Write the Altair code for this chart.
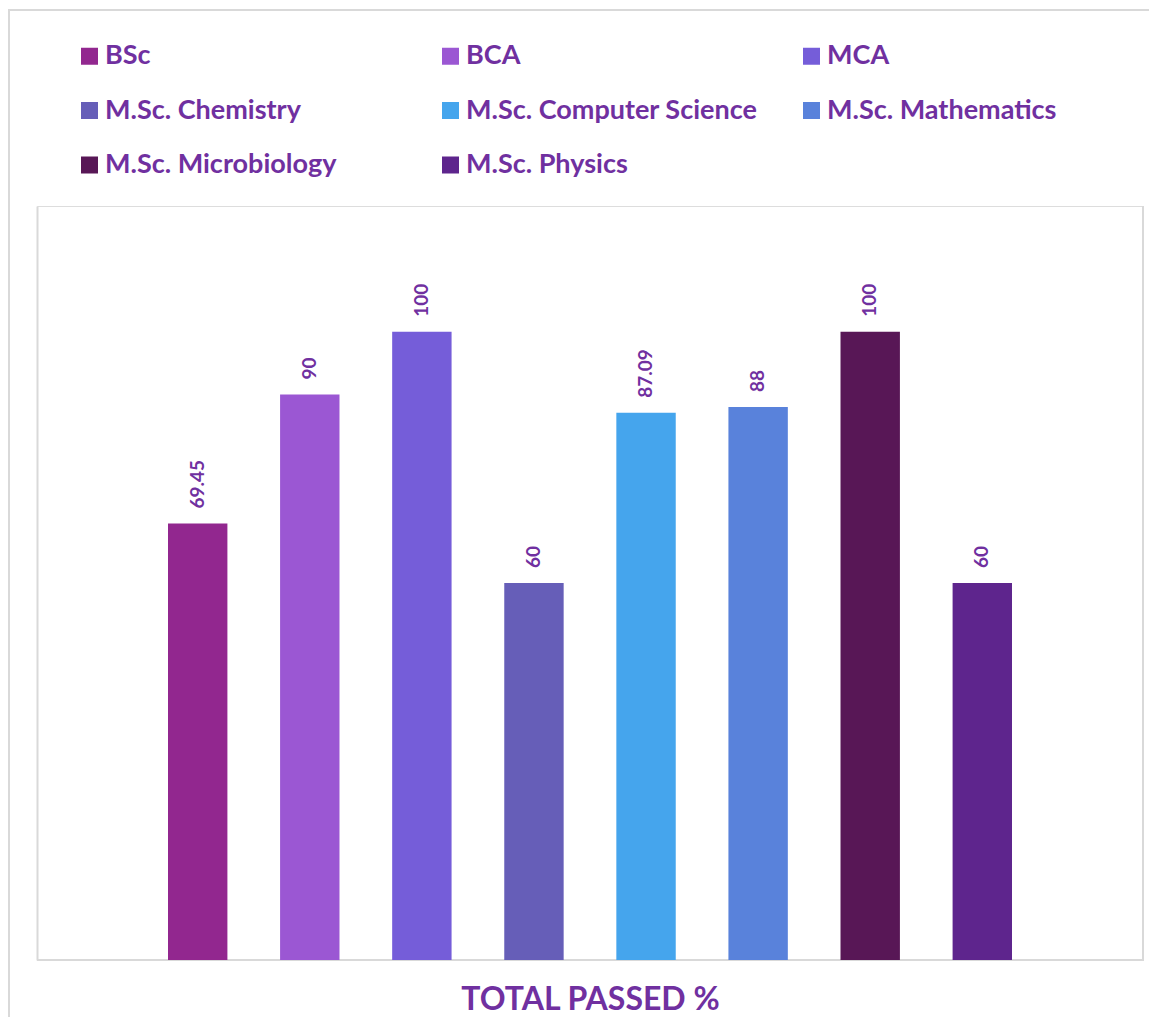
import altair as alt
import pandas as pd

programs = ["BSc", "BCA", "MCA", "M.Sc. Chemistry", "M.Sc. Computer Science",
            "M.Sc. Mathematics", "M.Sc. Microbiology", "M.Sc. Physics"]
passed = [69.45, 90, 100, 60, 87.09, 88, 100, 60]
colors = ["#92278F", "#9B57D3", "#755DD9", "#665EB8", "#45A5ED",
          "#5982DB", "#581756", "#5E258D"]
axis_title = "TOTAL PASSED %"

W, H = 1106, 754
PURPLE = "#7030A0"
GRID = "#D9D9D9"
FONT = "Lato"

df = pd.DataFrame({"program": programs, "value": passed})

x_enc = alt.X("program:N", sort=programs,
              scale=alt.Scale(paddingInner=0.47, paddingOuter=0, range=[131, W - 131]),
              axis=alt.Axis(labels=False, ticks=False, domain=False, grid=False,
                            title=axis_title, titleFont=FONT, titleFontSize=32,
                            titleFontWeight="bold", titleColor=PURPLE, titlePadding=24))
y_enc = alt.Y("value:Q", scale=alt.Scale(domain=[0, 120], nice=False),
              axis=alt.Axis(labels=False, ticks=False, domain=True, domainColor=GRID,
                            domainWidth=2, grid=False, title=None))

base = alt.Chart(df)

bars = base.mark_bar().encode(
    x=x_enc,
    y=y_enc,
    color=alt.Color("program:N", sort=programs,
                    scale=alt.Scale(domain=programs, range=colors),
                    legend=alt.Legend(orient="none", direction="horizontal",
                                      legendX=39, legendY=-163.5,
                                      columns=3, gridAlign="all", columnPadding=40,
                                      rowPadding=26.5, symbolType="square", symbolSize=289,
                                      symbolStrokeWidth=0, symbolOpacity=1,
                                      labelFont=FONT, labelFontSize=27,
                                      labelFontWeight="bold", labelColor=PURPLE,
                                      labelOffset=2, labelLimit=600, title=None,
                                      padding=0)),
)

labels = base.mark_text(angle=270, align="left", baseline="middle", dx=15,
                        font=FONT, fontSize=19, fontWeight="bold",
                        color=PURPLE).encode(
    x=alt.X("program:N", sort=programs),
    y=alt.Y("value:Q"),
    text=alt.Text("value:Q", format=".2~f"),
)

frame_df = pd.DataFrame({"k": [0]})
right_edge = alt.Chart(frame_df).mark_rule(color=GRID, strokeWidth=2).encode(
    x=alt.value(W), y=alt.value(0), y2=alt.value(H + 1))
bottom_edge = alt.Chart(frame_df).mark_rule(color=GRID, strokeWidth=2).encode(
    x=alt.value(0), x2=alt.value(W + 1), y=alt.value(H))
outer = alt.Chart(frame_df).mark_rect(fillOpacity=0, stroke=GRID, strokeWidth=2).encode(
    x=alt.value(-28), y=alt.value(-196), x2=alt.value(W + 60), y2=alt.value(H + 120))

chart = alt.layer(outer, right_edge, bottom_edge, bars, labels).properties(
    width=W, height=H,
    autosize=alt.AutoSizeParams(type="none"),
    padding={"left": 29, "top": 198, "right": 6, "bottom": 57},
).configure_view(strokeWidth=0).configure(background="white")

chart.save("out.html", embed_options={"renderer": "svg", "actions": False})
